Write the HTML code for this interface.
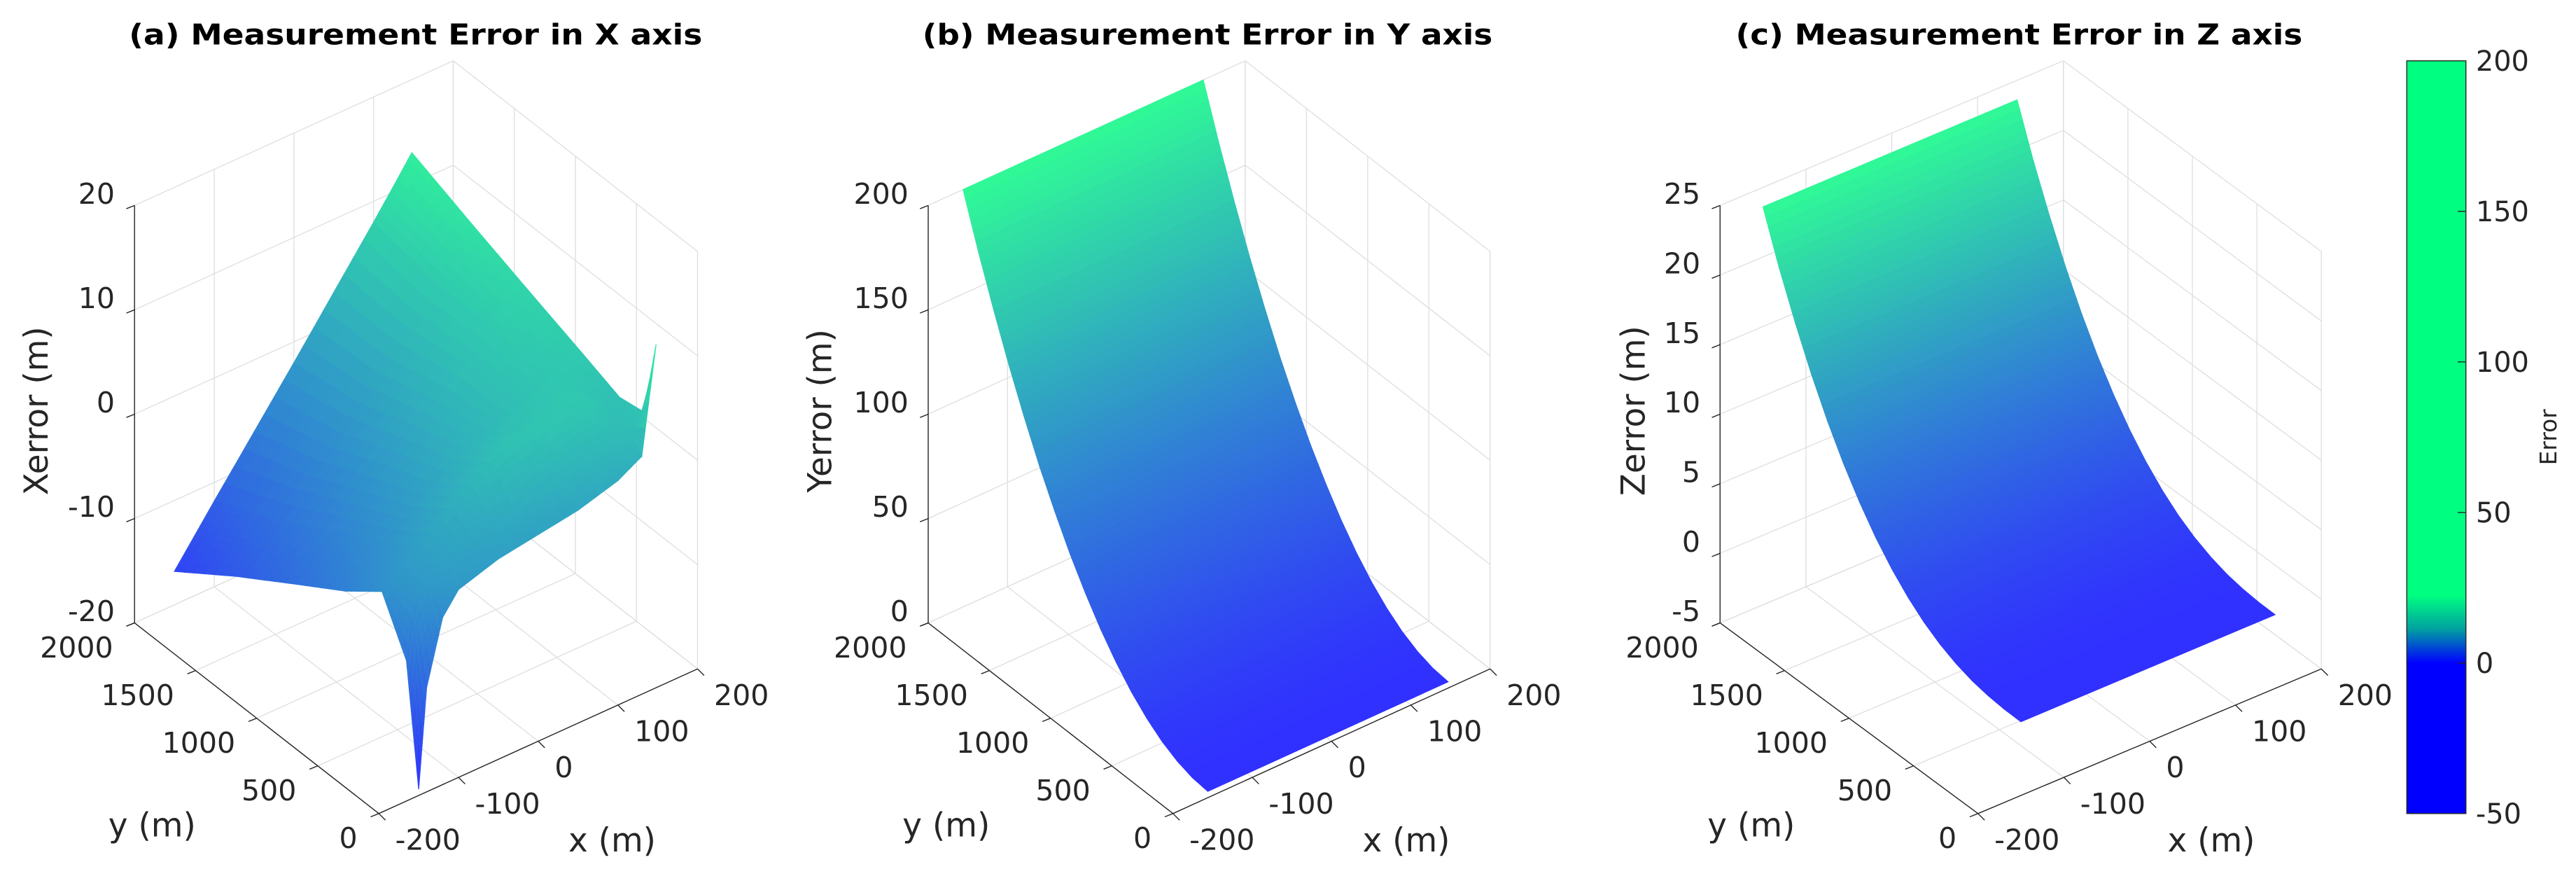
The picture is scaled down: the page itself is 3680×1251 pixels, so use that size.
<!DOCTYPE html>
<html><head><meta charset="utf-8"><style>
html,body{margin:0;padding:0;background:#fff;}
svg{display:block;}
text{font-family:"DejaVu Sans","Liberation Sans",sans-serif;fill:#262626;}
</style></head><body>
<svg id="fig" width="3680" height="1251" viewBox="0 0 1568 533" preserveAspectRatio="none" xmlns="http://www.w3.org/2000/svg">
<rect x="0" y="0" width="1568" height="533" fill="#fff"/>
<defs>
<linearGradient id="cbgrad" x1="0" y1="0" x2="0" y2="1">
<stop offset="0" stop-color="#00ff80"/><stop offset="0.71" stop-color="#00ff80"/>
<stop offset="0.755" stop-color="#00a0a0"/><stop offset="0.8" stop-color="#0000ff"/><stop offset="1" stop-color="#0000ff"/>
</linearGradient>
</defs>
<g id="colorbar">
<rect x="1465" y="37" width="36" height="458" fill="url(#cbgrad)" stroke="#262626" stroke-width="0.6"/>
</g>
</svg>
<script>
// ---- Data ----
var cbTicks = [-50, 0, 50, 100, 150, 200];
var cbMin = -50, cbMax = 200;
var xTicks = [-200, -100, 0, 100, 200];
var yTicks = [0, 500, 1000, 1500, 2000];
var zTicksA = [-20, -10, 0, 10, 20];
var zTicksB = [0, 50, 100, 150, 200];
var zTicksC = [-5, 0, 5, 10, 15, 20, 25];
// Panel (a): X error grid
var xsA = [-150, -140, -120, -100, -50, 0, 50, 100, 130, 148];
var ysA = [0, 100, 300, 600, 1000, 1500, 2000];
var zA0 = [-19.4, -10, -4, -2, -0.8, -0.2, 0.4, 1.5, 2.8, 12.9];
var zA1 = [-8, -3, -1.5, -0.5, 0.5, 1.6, 2.6, 3.6, 4.2, 5.5];
var zA2 = [-3.2, -2.6, -1.5, -0.4, 2.4, 5.1, 6.0, 6.5, 5.0, 5.1];
var zA3 = [-5.9, -5.3, -4.1, -3.0, -0.2, 2.6, 4.4, 6.0, 6.5, 6.5];
var zA4 = [-8.9, -8.3, -6.9, -5.6, -2.3, 1.0, 4.2, 6.7, 7.8, 8.3];
var zA5 = [-12.7, -12.0, -10.4, -8.9, -5.0, -1.1, 2.9, 6.8, 9.2, 10.6];
var zA6 = [-16.8, -15.8, -13.8, -11.8, -6.9, -2.0, 3.0, 8.0, 11.1, 13.0];
var zA = [zA0, zA1, zA2, zA3, zA4, zA5, zA6];
// Panel (b): Y error (constant across x)
var xsB = [-156, 147];
var ysB = [0, 125, 250, 375, 500, 625, 750, 875, 1000, 1125, 1250, 1375, 1500, 1625, 1750, 1875, 2000];
var zB = [3, 3.8, 6.1, 9.9, 15.3, 22.2, 30.7, 40.7, 52.3, 65.3, 80, 96, 113.8, 133, 153.8, 176, 200];
// Panel (c): Z error (constant across x)
var xsC = [-150, 146];
var ysC = [0, 125, 250, 375, 500, 625, 750, 875, 1000, 1125, 1250, 1375, 1500, 1625, 1750, 1875, 2000];
var zC = [0.3, 0.32, 0.43, 0.65, 1.03, 1.57, 2.3, 3.25, 4.42, 5.83, 7.5, 9.43, 11.65, 14.17, 17.0, 20.1, 23.6];

var NS = "http://www.w3.org/2000/svg";
var svg = document.getElementById('fig');
var cbGroup = document.getElementById('colorbar');
function mk(tag, attrs, parent){
  var e = document.createElementNS(NS, tag);
  for (var k in attrs) e.setAttribute(k, attrs[k]);
  (parent || svg).appendChild(e);
  return e;
}
function colorFor(t){
  t = Math.max(0, Math.min(1, t));
  var r = 48, g = Math.round(48 + (250 - 48) * t), b = Math.round(255 + (150 - 255) * t);
  return 'rgb(' + r + ',' + g + ',' + b + ')';
}
function makePanel(cfg){
  var g = mk('g', {});
  
  
  function P(x, y, z){
    var nx = (x + 200) / 400, ny = y / 2000, nz = (z - cfg.zmin) / (cfg.zmax - cfg.zmin);
    return [cfg.O[0] + cfg.ex[0] * nx + cfg.ey[0] * ny, cfg.O[1] + cfg.ex[1] * nx + cfg.ey[1] * ny + cfg.ez * nz];
  }
  function line(a, b, col, w, name){
    var l = mk('line', {x1: a[0], y1: a[1], x2: b[0], y2: b[1], stroke: col, 'stroke-width': w}, g);
    
    
  }
  var gc = '#dedede', gw = 0.55, zmin = cfg.zmin, zmax = cfg.zmax;
  xTicks.forEach(function(v){ line(P(v, 2000, zmin), P(v, 2000, zmax), gc, gw, 'grid-line'); });
  cfg.zTicks.forEach(function(v){ line(P(-200, 2000, v), P(200, 2000, v), gc, gw, 'grid-line'); });
  yTicks.forEach(function(v){ line(P(200, v, zmin), P(200, v, zmax), gc, gw, 'grid-line'); });
  cfg.zTicks.forEach(function(v){ line(P(200, 0, v), P(200, 2000, v), gc, gw, 'grid-line'); });
  xTicks.forEach(function(v){ line(P(v, 0, zmin), P(v, 2000, zmin), gc, gw, 'grid-line'); });
  yTicks.forEach(function(v){ line(P(-200, v, zmin), P(200, v, zmin), gc, gw, 'grid-line'); });
  var quads = [];
  var nsx = cfg.subX, nsy = cfg.subY;
  for (var j = 0; j < cfg.ys.length - 1; j++){
    for (var i = 0; i < cfg.xs.length - 1; i++){
      var z00 = cfg.z(j, i), z10 = cfg.z(j, i + 1), z11 = cfg.z(j + 1, i + 1), z01 = cfg.z(j + 1, i);
      var x0 = cfg.xs[i], x1 = cfg.xs[i + 1], y0 = cfg.ys[j], y1 = cfg.ys[j + 1];
      var bil = function(u, v){ return z00 * (1 - u) * (1 - v) + z10 * u * (1 - v) + z11 * u * v + z01 * (1 - u) * v; };
      for (var b = 0; b < nsy; b++){
        for (var a = 0; a < nsx; a++){
          var u0 = a / nsx, u1 = (a + 1) / nsx, v0 = b / nsy, v1 = (b + 1) / nsy;
          var X0 = x0 + (x1 - x0) * u0, X1 = x0 + (x1 - x0) * u1, Y0 = y0 + (y1 - y0) * v0, Y1 = y0 + (y1 - y0) * v1;
          var za = bil(u0, v0), zb = bil(u1, v0), zc = bil(u1, v1), zd = bil(u0, v1);
          quads.push({pts: [P(X0, Y0, za), P(X1, Y0, zb), P(X1, Y1, zc), P(X0, Y1, zd)],
            zm: (za + zb + zc + zd) / 4, depth: (X0 + X1) / 800 + (Y0 + Y1) / 4000});
        }
      }
    }
  }
  quads.sort(function(a, b){ return b.depth - a.depth; });
  var sg = mk('g', {}, g);
  
  
  quads.forEach(function(q){
    var c = colorFor((q.zm - cfg.cmin) / (cfg.cmax - cfg.cmin));
    var p = mk('polygon', {points: q.pts.map(function(p){ return p[0].toFixed(2) + ',' + p[1].toFixed(2); }).join(' '), fill: c, stroke: c, 'stroke-width': 0.5}, sg);
    
    
  });
  var ac = '#262626', aw = 0.6;
  line(P(-200, 2000, zmin), P(-200, 2000, zmax), ac, aw, 'z-axis-line');
  line(P(-200, 2000, zmin), P(-200, 0, zmin), ac, aw, 'y-axis-line');
  line(P(-200, 0, zmin), P(200, 0, zmin), ac, aw, 'x-axis-line');
  var fs = 17.5;
  cfg.zTicks.forEach(function(v){
    var p = P(-200, 2000, v);
    line(p, [p[0] - 5, p[1] + 2], ac, aw, 'z-tick');
    var t = mk('text', {x: p[0] - 12, y: p[1] - 1, 'text-anchor': 'end', 'font-size': fs}, g);
    t.textContent = v;
    
    
  });
  yTicks.forEach(function(v){
    var p = P(-200, v, zmin);
    line(p, [p[0] - 5, p[1] + 2], ac, aw, 'y-tick');
    var t = mk('text', {x: p[0] - 13, y: p[1] + 21, 'text-anchor': 'end', 'font-size': fs}, g);
    t.textContent = v;
    
    
  });
  xTicks.forEach(function(v){
    var p = P(v, 0, zmin);
    line(p, [p[0] + 4, p[1] + 4], ac, aw, 'x-tick');
    var t = mk('text', {x: p[0] + 10, y: p[1] + 22, 'text-anchor': 'start', 'font-size': fs}, g);
    t.textContent = v;
    
    
  });
  var tt = mk('text', {x: cfg.titleX, y: 27, 'text-anchor': 'middle', 'font-size': 17.5, 'font-weight': 'bold', textLength: cfg.titleW, lengthAdjust: 'spacingAndGlyphs'}, g);
  tt.setAttribute('style', 'fill:#000');
  tt.textContent = cfg.title;
  
  
  var zl = mk('text', {x: 0, y: 0, 'text-anchor': 'middle', 'font-size': 20, transform: 'translate(' + (cfg.zLabelX + 7) + ',250) rotate(-90)'}, g);
  zl.textContent = cfg.zLabel;
  
  
  var yl = mk('text', {x: cfg.O[0] - 138, y: 509, 'text-anchor': 'middle', 'font-size': 20}, g);
  yl.textContent = 'y (m)';
  
  
  var xl = mk('text', {x: cfg.O[0] + 142, y: 518, 'text-anchor': 'middle', 'font-size': 20}, g);
  xl.textContent = 'x (m)';
  
  
}

makePanel({name: 'panel-x-error', O: [230.6, 495], ex: [194, -88], ey: [-148.7, -116], ez: -254, zmin: -20, zmax: 20, cmin: -20, cmax: 15,
  zTicks: zTicksA, xs: xsA, ys: ysA, z: function(j, i){ return zA[j][i]; }, subX: 4, subY: 6,
  title: '(a) Measurement Error in X axis', titleX: 253, titleW: 349, zLabel: 'Xerror (m)', zLabelX: 22});
makePanel({name: 'panel-y-error', O: [714, 495], ex: [193, -88], ey: [-149, -116], ez: -254, zmin: 0, zmax: 200, cmin: 3, cmax: 200,
  zTicks: zTicksB, xs: xsB, ys: ysB, z: function(j, i){ return zB[j]; }, subX: 1, subY: 6,
  title: '(b) Measurement Error in Y axis', titleX: 735, titleW: 347, zLabel: 'Yerror (m)', zLabelX: 499});
makePanel({name: 'panel-z-error', O: [1204, 495], ex: [209, -88], ey: [-157, -116], ez: -254, zmin: -5, zmax: 25, cmin: 0.3, cmax: 23.6,
  zTicks: zTicksC, xs: xsC, ys: ysC, z: function(j, i){ return zC[j]; }, subX: 1, subY: 6,
  title: '(c) Measurement Error in Z axis', titleX: 1229, titleW: 345, zLabelX: 994, zLabel: 'Zerror (m)'});

var cbTop = 37, cbH = 458, cbX = 1465, cbW = 36;
function cbY(v){ return cbTop + (cbMax - v) / (cbMax - cbMin) * cbH; }
cbTicks.forEach(function(v){
  var y = cbY(v);
  if (v !== cbMin && v !== cbMax){
    var l = mk('line', {x1: cbX + cbW - 5, y1: y, x2: cbX + cbW, y2: y, stroke: '#262626', 'stroke-width': 0.6}, cbGroup);
    
    
  }
  var t = mk('text', {x: cbX + cbW + 6, y: y + 6, 'font-size': 17}, cbGroup);
  t.textContent = v;
  
  
});
var el = mk('text', {x: 0, y: 0, 'text-anchor': 'middle', 'font-size': 14, transform: 'translate(1556,266) rotate(-90)'}, cbGroup);
el.textContent = 'Error';


</script>
</body></html>
